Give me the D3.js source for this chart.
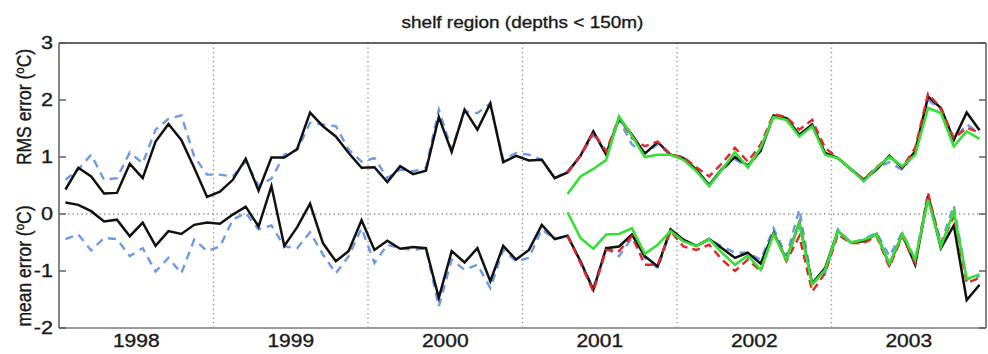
<!DOCTYPE html>
<html>
<head>
<meta charset="utf-8">
<script src="https://cdn.jsdelivr.net/npm/d3@7"></script>
<style>
  html, body { margin: 0; padding: 0; background: #fff; }
  svg { display: block; }
  text { font-family: "Liberation Sans", Arial, Helvetica, sans-serif; fill: #1a1a1a;
         stroke: #1a1a1a; stroke-width: 0.35px; }
</style>
</head>
<body>
<svg id="chart" width="988" height="354"></svg>
<script>
// Monthly shelf-region error statistics, Jan 1998 – Dec 2003
const years = [1998, 1999, 2000, 2001, 2002, 2003];
const yTicks = [3, 2, 1, 0, -1, -2];

// RMS error (°C)
const rmsBlack = [0.43,0.81,0.66,0.36,0.37,0.88,0.63,1.27,1.58,1.30,0.81,0.30,
  0.39,0.60,0.97,0.41,0.99,0.99,1.14,1.78,1.54,1.36,1.07,0.81,
  0.82,0.56,0.84,0.70,0.76,1.70,1.09,1.83,1.48,1.94,0.91,1.02,
  0.94,0.95,0.63,0.73,1.02,1.45,1.04,1.68,1.39,1.06,1.26,1.04,
  0.98,0.78,0.51,0.79,1.00,0.85,1.11,1.73,1.68,1.39,1.57,1.07,
  0.98,0.79,0.60,0.78,1.02,0.81,1.10,2.06,1.86,1.30,1.78,1.47];
const rmsBlue = [0.60,0.78,1.04,0.60,0.63,1.08,0.89,1.48,1.67,1.73,1.01,0.69,
  0.69,0.66,0.92,0.50,0.62,1.04,1.12,1.60,1.57,1.54,1.13,0.92,
  0.98,0.63,0.78,0.75,0.81,1.83,1.13,1.80,1.77,1.94,0.95,1.07,
  1.04,0.95,0.63,0.75,1.02,1.39,1.08,1.65,1.22,1.07,1.22,1.04,
  0.98,0.78,0.49,0.78,0.96,0.82,1.16,1.71,1.68,1.39,1.54,1.07,
  0.98,0.78,0.60,0.81,0.91,0.77,1.08,2.00,1.83,1.30,1.57,1.42];
// red and green runs begin in April 2001 (month index 39)
const lateStart = 39;
const rmsRed = [0.73,1.02,1.43,1.10,1.70,1.33,1.19,1.27,1.04,
  1.00,0.82,0.66,0.89,1.16,0.92,1.22,1.75,1.70,1.48,1.65,1.16,
  0.98,0.78,0.61,0.82,1.00,0.82,1.16,2.11,1.86,1.33,1.51,1.43];
const rmsGreen = [0.35,0.66,0.79,0.95,1.71,1.37,1.00,1.04,1.04,
  0.95,0.75,0.49,0.78,1.08,0.82,1.16,1.70,1.65,1.36,1.54,1.04,
  0.98,0.79,0.57,0.81,1.00,0.84,1.04,1.86,1.77,1.19,1.45,1.32];

// mean error (°C)
const meanBlack = [0.20,0.16,0.05,-0.13,-0.10,-0.39,-0.15,-0.56,-0.30,-0.35,-0.19,-0.15,
  -0.17,-0.01,0.13,-0.22,0.49,-0.56,-0.23,0.18,-0.51,-0.83,-0.65,-0.11,
  -0.63,-0.47,-0.61,-0.58,-0.60,-1.47,-0.65,-0.85,-0.60,-1.18,-0.56,-0.80,
  -0.63,-0.19,-0.44,-0.38,-0.83,-1.33,-0.60,-0.57,-0.36,-0.74,-0.92,-0.27,
  -0.45,-0.56,-0.44,-0.60,-0.77,-0.68,-0.87,-0.33,-0.80,-0.15,-1.22,-0.95,
  -0.30,-0.50,-0.48,-0.35,-0.89,-0.36,-0.89,0.31,-0.60,-0.20,-1.51,-1.24];
const meanBlue = [-0.44,-0.36,-0.64,-0.42,-0.44,-0.74,-0.60,-1.01,-0.77,-1.04,-0.45,-0.65,
  -0.57,-0.10,0.02,-0.27,-0.20,-0.57,-0.60,-0.32,-0.71,-1.04,-0.74,-0.25,
  -0.86,-0.54,-0.60,-0.63,-0.60,-1.62,-0.80,-0.98,-0.89,-1.30,-0.63,-0.83,
  -0.77,-0.27,-0.44,-0.39,-0.83,-1.30,-0.60,-0.74,-0.42,-0.77,-0.95,-0.30,
  -0.48,-0.56,-0.44,-0.57,-0.68,-0.68,-0.80,-0.25,-0.74,0.08,-1.21,-1.04,
  -0.27,-0.51,-0.44,-0.33,-0.74,-0.32,-0.80,0.34,-0.51,0.15,-1.15,-1.09];
const meanRed = [-0.38,-0.86,-1.36,-0.63,-0.65,-0.39,-0.89,-0.89,-0.30,
  -0.57,-0.63,-0.54,-0.80,-1.00,-0.80,-1.00,-0.33,-0.83,-0.39,-1.36,-1.04,
  -0.36,-0.51,-0.51,-0.39,-0.93,-0.39,-0.86,0.37,-0.54,-0.04,-1.21,-1.12];
const meanGreen = [0.03,-0.42,-0.61,-0.36,-0.35,-0.25,-0.70,-0.54,-0.30,
  -0.48,-0.56,-0.44,-0.68,-0.89,-0.73,-0.98,-0.35,-0.80,-0.16,-1.24,-0.98,
  -0.30,-0.50,-0.45,-0.36,-0.87,-0.35,-0.80,0.25,-0.57,0.05,-1.14,-1.06];

const svg = d3.select("#chart");
const box = { left: 59, right: 986, top: 43, bottom: 328 };
const stretch = 1.2;   // horizontally widened lettering

const x = d3.scaleLinear()
  .domain([years[0], years[years.length - 1] + 1])
  .range([box.left, box.right]);
const y = d3.scaleLinear().domain([-2, 3]).range([box.bottom, box.top]);

// mid-month time for month index i
const t = i => years[0] + (i + 0.5) / 12;

// grid: year boundaries and the zero line
svg.append("g").selectAll("line")
  .data(years.slice(1))
  .join("line")
  .attr("x1", d => x(d)).attr("x2", d => x(d))
  .attr("y1", box.top).attr("y2", box.bottom)
  .attr("stroke", "#8c8c8c").attr("stroke-width", 1.3)
  .attr("stroke-dasharray", "1.3,3.2");
svg.append("line")
  .attr("x1", box.left).attr("x2", box.right)
  .attr("y1", y(0)).attr("y2", y(0))
  .attr("stroke", "#8c8c8c").attr("stroke-width", 1.3)
  .attr("stroke-dasharray", "1.3,3.2");

// series
const line = d3.line().x(d => x(d[0])).y(d => y(d[1]));
const pts = (vals, start) => vals.map((v, k) => [t(start + k), v]);

const series = [
  { vals: rmsBlue, start: 0, color: "#6d99e6", w: 2.4, dash: "8,6" },
  { vals: meanBlue, start: 0, color: "#6d99e6", w: 2.4, dash: "8,6" },
  { vals: rmsBlack, start: 0, color: "#111", w: 2.5, dash: null },
  { vals: meanBlack, start: 0, color: "#111", w: 2.5, dash: null },
  { vals: rmsRed, start: lateStart, color: "#e3262a", w: 2.4, dash: "8,5" },
  { vals: meanRed, start: lateStart, color: "#e3262a", w: 2.4, dash: "8,5" },
  { vals: rmsGreen, start: lateStart, color: "#35e035", w: 2.6, dash: null },
  { vals: meanGreen, start: lateStart, color: "#35e035", w: 2.6, dash: null }
];
svg.append("g").selectAll("path")
  .data(series)
  .join("path")
  .attr("d", s => line(pts(s.vals, s.start)))
  .attr("fill", "none")
  .attr("stroke", s => s.color)
  .attr("stroke-width", s => s.w)
  .attr("stroke-dasharray", s => s.dash)
  .attr("stroke-linejoin", "miter");

// frame
svg.append("line").attr("x1", box.left).attr("x2", box.right)
  .attr("y1", box.top).attr("y2", box.top).attr("stroke", "#333").attr("stroke-width", 1.6);
svg.append("line").attr("x1", box.left).attr("x2", box.right)
  .attr("y1", box.bottom).attr("y2", box.bottom).attr("stroke", "#999").attr("stroke-width", 2);
svg.append("line").attr("x1", box.left).attr("x2", box.left)
  .attr("y1", box.top).attr("y2", box.bottom).attr("stroke", "#666").attr("stroke-width", 1.6);
svg.append("line").attr("x1", box.right).attr("x2", box.right)
  .attr("y1", box.top).attr("y2", box.bottom).attr("stroke", "#666").attr("stroke-width", 1.6);

// inward ticks on both y sides
const tickLen = 7;
svg.append("g").selectAll("line")
  .data(yTicks)
  .join("line")
  .attr("x1", box.left).attr("x2", box.left + tickLen)
  .attr("y1", d => y(d)).attr("y2", d => y(d))
  .attr("stroke", "#555").attr("stroke-width", 1.4);
svg.append("g").selectAll("line")
  .data(yTicks)
  .join("line")
  .attr("x1", box.right).attr("x2", box.right - tickLen)
  .attr("y1", d => y(d)).attr("y2", d => y(d))
  .attr("stroke", "#555").attr("stroke-width", 1.4);

// tick labels
svg.append("g").selectAll("text")
  .data(yTicks)
  .join("text")
  .attr("transform", d => `translate(53,${y(d)}) scale(${stretch},1)`)
  .attr("text-anchor", "end")
  .attr("dy", "0.36em")
  .attr("font-size", 18)
  .text(d => d);

svg.append("g").selectAll("text")
  .data(years)
  .join("text")
  .attr("transform", d => `translate(${x(d + 0.5)},347) scale(${stretch},1)`)
  .attr("text-anchor", "middle")
  .attr("font-size", 17.5)
  .text(d => d);

// title
svg.append("text")
  .attr("transform", `translate(${(box.left + box.right) / 2},28) scale(1.15,1)`)
  .attr("text-anchor", "middle")
  .attr("font-size", 16.5)
  .text("shelf region (depths < 150m)");

// rotated y labels with superscript degree "o"
function yLabel(word, cy) {
  const tx = svg.append("text")
    .attr("transform", `translate(31,${cy}) scale(1.15,1) rotate(-90)`)
    .attr("text-anchor", "middle")
    .attr("font-size", 17.5);
  tx.append("tspan").text(word + " (");
  tx.append("tspan").attr("font-size", 11.5).attr("dy", "-0.55em").text("o");
  tx.append("tspan").attr("dy", "0.35em").text("C)");
}
yLabel("RMS error", 107);
yLabel("mean error", 266);
</script>
</body>
</html>
